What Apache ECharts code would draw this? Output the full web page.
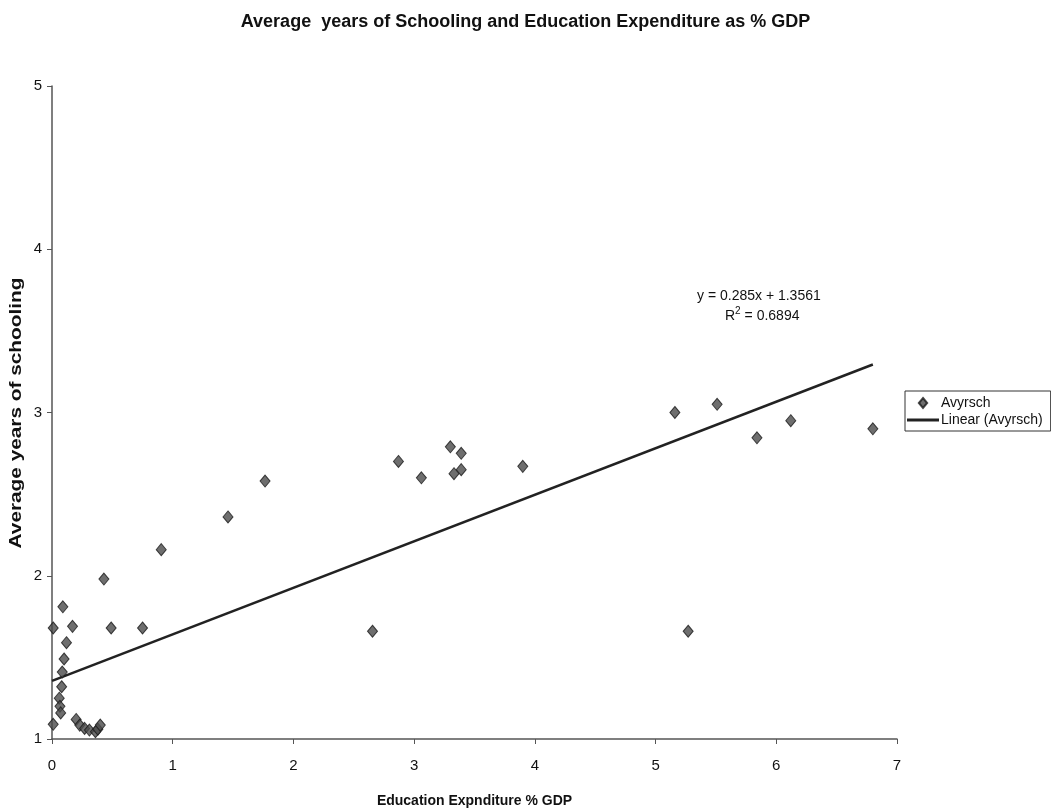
<!DOCTYPE html>
<html>
<head>
<meta charset="utf-8">
<title>Average years of Schooling and Education Expenditure as % GDP</title>
<script src="https://cdn.jsdelivr.net/npm/echarts@6/dist/echarts.min.js"></script>
<style>
  html, body { margin: 0; padding: 0; background: #fff; }
  #chart { width: 1051px; height: 812px; }
</style>
</head>
<body>
<div id="chart"></div>
<script>
// Education expenditure (% GDP) per observation
const expenditure = [
  0.01, 0.01, 0.09, 0.17, 0.12, 0.10, 0.085, 0.08, 0.06, 0.066, 0.072,
  0.20, 0.23, 0.27, 0.31, 0.36, 0.38, 0.40, 0.43, 0.49, 0.75,
  0.905, 1.458, 1.765, 2.655,
  2.87, 3.06, 3.30, 3.39, 3.33, 3.39, 3.90,
  5.16, 5.27, 5.51, 5.84, 6.12, 6.80
];
// Average years of schooling per observation
const avyrsch = [
  1.68, 1.09, 1.81, 1.69, 1.59, 1.49, 1.41, 1.32, 1.25, 1.20, 1.16,
  1.12, 1.085, 1.065, 1.055, 1.045, 1.06, 1.085, 1.98, 1.68, 1.68,
  2.16, 2.36, 2.58, 1.66,
  2.70, 2.60, 2.79, 2.75, 2.625, 2.65, 2.67,
  3.00, 1.66, 3.05, 2.845, 2.95, 2.90
];

// trend line as printed on the chart
const trendSlope = 0.285;
const trendIntercept = 1.3561;
const rSquared = 0.6894;

const xTicks = [0, 1, 2, 3, 4, 5, 6, 7];
const yTicks = [1, 2, 3, 4, 5];

const fontFamily = "'Liberation Sans', Arial, sans-serif";

const points = expenditure.map((x, i) => [x, avyrsch[i]]);
const xMax = Math.max(...expenditure);
const trendData = [
  [0, trendIntercept],
  [xMax, trendSlope * xMax + trendIntercept]
];

const chart = echarts.init(document.getElementById('chart'));

chart.setOption({
  backgroundColor: '#fff',
  animation: false,
  textStyle: { fontFamily: fontFamily, color: '#111' },
  title: {
    text: 'Average  years of Schooling and Education Expenditure as % GDP',
    left: 'center',
    top: 8,
    textStyle: { fontSize: 18, fontWeight: 'bold', color: '#111', fontFamily: fontFamily }
  },
  grid: { left: 52, top: 86, width: 845, height: 653, outerBoundsMode: 'none' },
  legend: {
    orient: 'vertical',
    left: 905,
    top: 391,
    padding: [5, 8, 4, 2],
    itemGap: 3,
    itemWidth: 32,
    itemHeight: 10,
    borderColor: '#333',
    borderWidth: 1,
    textStyle: { fontSize: 14, color: '#111', fontFamily: fontFamily, padding: [0, 0, 0, -3] },
    data: [
      { name: 'Avyrsch', icon: 'path://M5,0L10,6L5,12L0,6Z' },
      { name: 'Linear (Avyrsch)', icon: 'path://M0,0L32,0L32,3L0,3Z', itemStyle: { color: '#222' } }
    ]
  },
  xAxis: {
    type: 'value',
    min: xTicks[0],
    max: xTicks[xTicks.length - 1],
    interval: 1,
    name: 'Education Expnditure % GDP',
    nameLocation: 'middle',
    nameGap: 55,
    nameTextStyle: { fontSize: 14, fontWeight: 'bold', color: '#111' },
    axisLine: { lineStyle: { color: '#555', width: 1.5 } },
    axisTick: { show: true, length: 5, lineStyle: { color: '#555' } },
    axisLabel: { fontSize: 15, color: '#111', margin: 19 },
    splitLine: { show: false }
  },
  yAxis: {
    type: 'value',
    min: yTicks[0],
    max: yTicks[yTicks.length - 1],
    interval: 1,
    axisLine: { show: true, lineStyle: { color: '#555', width: 1.5 } },
    axisTick: { show: true, length: 5, lineStyle: { color: '#555' } },
    axisLabel: { fontSize: 15, color: '#111', margin: 10 },
    splitLine: { show: false }
  },
  series: [
    {
      name: 'Avyrsch',
      type: 'scatter',
      symbol: 'diamond',
      symbolSize: [10, 12],
      symbolKeepAspect: true,
      itemStyle: { color: '#4a4a4a', borderColor: '#1a1a1a', borderWidth: 1 },
      data: points,
      z: 3
    },
    {
      name: 'Linear (Avyrsch)',
      type: 'line',
      data: trendData,
      showSymbol: false,
      symbol: 'none',
      symbolKeepAspect: true,
      lineStyle: { color: '#222', width: 2.5 },
      itemStyle: { color: '#222' },
      z: 2
    }
  ],
  graphic: [
    {
      // y axis name, spread out like the original
      type: 'text',
      x: 17,
      y: 413,
      rotation: Math.PI / 2,
      scaleX: 1.3,
      style: {
        text: 'Average years of schooling',
        fontSize: 16,
        fontWeight: 'bold',
        fill: '#111',
        fontFamily: fontFamily,
        align: 'center',
        verticalAlign: 'middle'
      }
    },
    {
      type: 'text',
      left: 697,
      top: 289,
      style: {
        text: 'y = ' + trendSlope + 'x + ' + trendIntercept,
        fontSize: 14,
        fill: '#111',
        fontFamily: fontFamily
      }
    },
    {
      type: 'text',
      left: 725,
      top: 306,
      style: {
        text: '{t|R}{s|2}{t| = ' + rSquared + '}',
        fill: '#111',
        fontFamily: fontFamily,
        rich: {
          t: { fontSize: 14, fontFamily: fontFamily, padding: [6, 0, 0, 0] },
          s: { fontSize: 10, fontFamily: fontFamily, padding: [0, 0, 4, 0] }
        }
      }
    }
  ]
});
</script>
</body>
</html>
